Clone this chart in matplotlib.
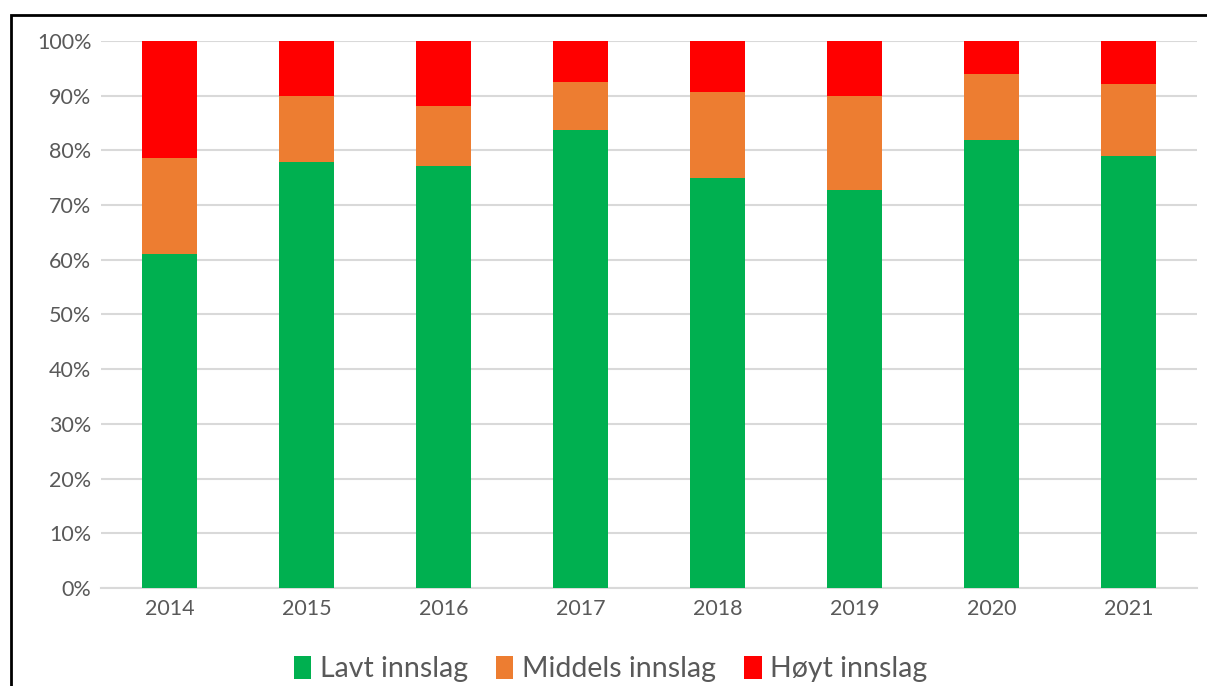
import matplotlib
import matplotlib.pyplot as plt
from matplotlib.patches import Rectangle
from matplotlib.ticker import FuncFormatter

matplotlib.use("Agg")

years = ["2014", "2015", "2016", "2017", "2018", "2019", "2020", "2021"]
lavt = [61.0, 77.9, 77.1, 83.7, 75.0, 72.8, 81.9, 79.0]
middels = [17.6, 12.0, 11.0, 8.8, 15.7, 17.1, 12.1, 13.1]
hoyt = [100 - a - b for a, b in zip(lavt, middels)]

series_names = ["Lavt innslag", "Middels innslag", "Høyt innslag"]
series_colors = ["#00B050", "#ED7D31", "#FF0000"]

plt.rcParams["font.family"] = ["Lato", "DejaVu Sans"]

fig = plt.figure(figsize=(12.07, 6.86), dpi=100)
ax = fig.add_axes([0.0837, 0.1429, 0.9080, 0.7973])

x = range(len(years))
bottom = [0.0] * len(years)
for name, vals, col in zip(series_names, [lavt, middels, hoyt], series_colors):
    ax.bar(x, vals, 0.40, bottom=bottom, color=col, label=name, zorder=3)
    bottom = [b + v for b, v in zip(bottom, vals)]

ax.set_xlim(-0.5, len(years) - 0.5)
ax.set_ylim(0, 100)
ax.set_yticks(range(0, 101, 10))
ax.yaxis.set_major_formatter(FuncFormatter(lambda v, _: f"{v:.0f}%"))
ax.set_xticks(list(x))
ax.set_xticklabels(years)
ax.grid(axis="y", color="#d9d9d9", linewidth=1.5, zorder=0)
for side in ["left", "right", "top"]:
    ax.spines[side].set_visible(False)
ax.spines["bottom"].set_color("#d9d9d9")
ax.spines["bottom"].set_linewidth(1.5)
ax.tick_params(axis="both", length=0, labelsize=15.5, labelcolor="#595959")
ax.tick_params(axis="y", pad=7)
ax.tick_params(axis="x", pad=8)

fig.legend(loc="center", bbox_to_anchor=(0.506, 0.025), ncol=3, frameon=False,
           fontsize=20.5, labelcolor="#595959", handlelength=0.6, handleheight=0.9,
           handletextpad=0.3, columnspacing=1.0)

# chart frame, cropped at right and bottom
fig.patches.append(Rectangle((10.5 / 1207, -0.1), 1.2, 1 - 15 / 686 + 0.1,
                             transform=fig.transFigure, fill=False,
                             edgecolor="black", linewidth=2))

fig.savefig("out.png", dpi=100)
